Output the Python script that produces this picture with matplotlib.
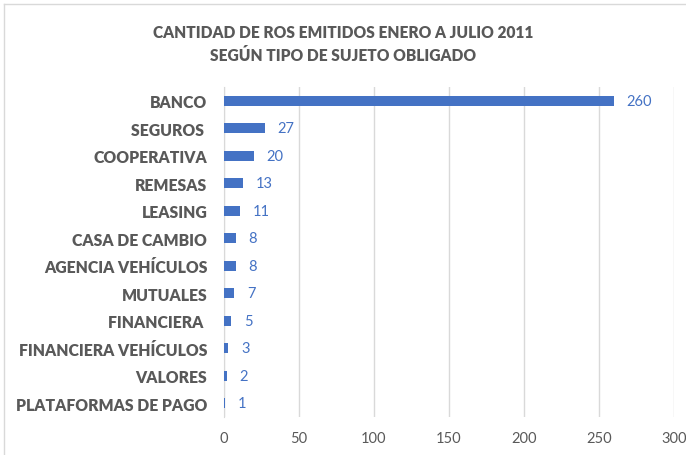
import matplotlib.pyplot as plt
from matplotlib.lines import Line2D

categorias = ["BANCO", "SEGUROS ", "COOPERATIVA", "REMESAS", "LEASING", "CASA DE CAMBIO",
              "AGENCIA VEHÍCULOS", "MUTUALES", "FINANCIERA ", "FINANCIERA VEHÍCULOS",
              "VALORES", "PLATAFORMAS DE PAGO"]
valores = [260, 27, 20, 13, 11, 8, 8, 7, 5, 3, 2, 1]
ticks_x = [0, 50, 100, 150, 200, 250, 300]

azul = "#4472C4"
gris = "#595959"
plt.rcParams["font.family"] = ["Lato", "DejaVu Sans"]

fig = plt.figure(figsize=(6.86, 4.56), dpi=100)
ax = fig.add_axes([224 / 686, 1 - 418 / 456, 450 / 686, 330 / 456])

pos = list(range(len(categorias)))
ax.barh(pos, valores, height=0.37, color=azul, zorder=3)
for p, v in zip(pos, valores):
    ax.annotate(str(v), (v, p), xytext=(9, 0), textcoords="offset points",
                va="center", ha="left", color=azul, fontsize=10.5)

ax.set_ylim(len(categorias) - 0.5, -0.5)
ax.set_xlim(0, 300)
ax.set_yticks(pos)
ax.set_yticklabels(categorias, fontweight="heavy", color=gris, fontsize=11.3)
ax.set_xticks(ticks_x)
ax.set_xticklabels([str(t) for t in ticks_x], color=gris, fontsize=10.5)
ax.tick_params(axis="y", length=0, pad=12)
ax.tick_params(axis="x", length=0, pad=10)
ax.grid(axis="x", color="#D9D9D9", linewidth=1, zorder=0)
for s in ["top", "right", "bottom"]:
    ax.spines[s].set_visible(False)
ax.spines["left"].set_color("#D9D9D9")

fig.text(0.5, 1 - 33 / 456, "CANTIDAD DE ROS EMITIDOS ENERO A JULIO 2011",
         ha="center", va="center", fontweight="heavy", color=gris, fontsize=11.2)
fig.text(0.5, 1 - 56 / 456, "SEGÚN TIPO DE SUJETO OBLIGADO",
         ha="center", va="center", fontweight="heavy", color=gris, fontsize=11.2)

# borde del gráfico
fig.add_artist(Line2D([4 / 686, 4 / 686], [0, 1 - 5 / 456], transform=fig.transFigure,
                      color="#D9D9D9", linewidth=1))
fig.add_artist(Line2D([4 / 686, 1], [1 - 5 / 456, 1 - 5 / 456], transform=fig.transFigure,
                      color="#D9D9D9", linewidth=1))

plt.savefig("out.png", dpi=100)
plt.close()
